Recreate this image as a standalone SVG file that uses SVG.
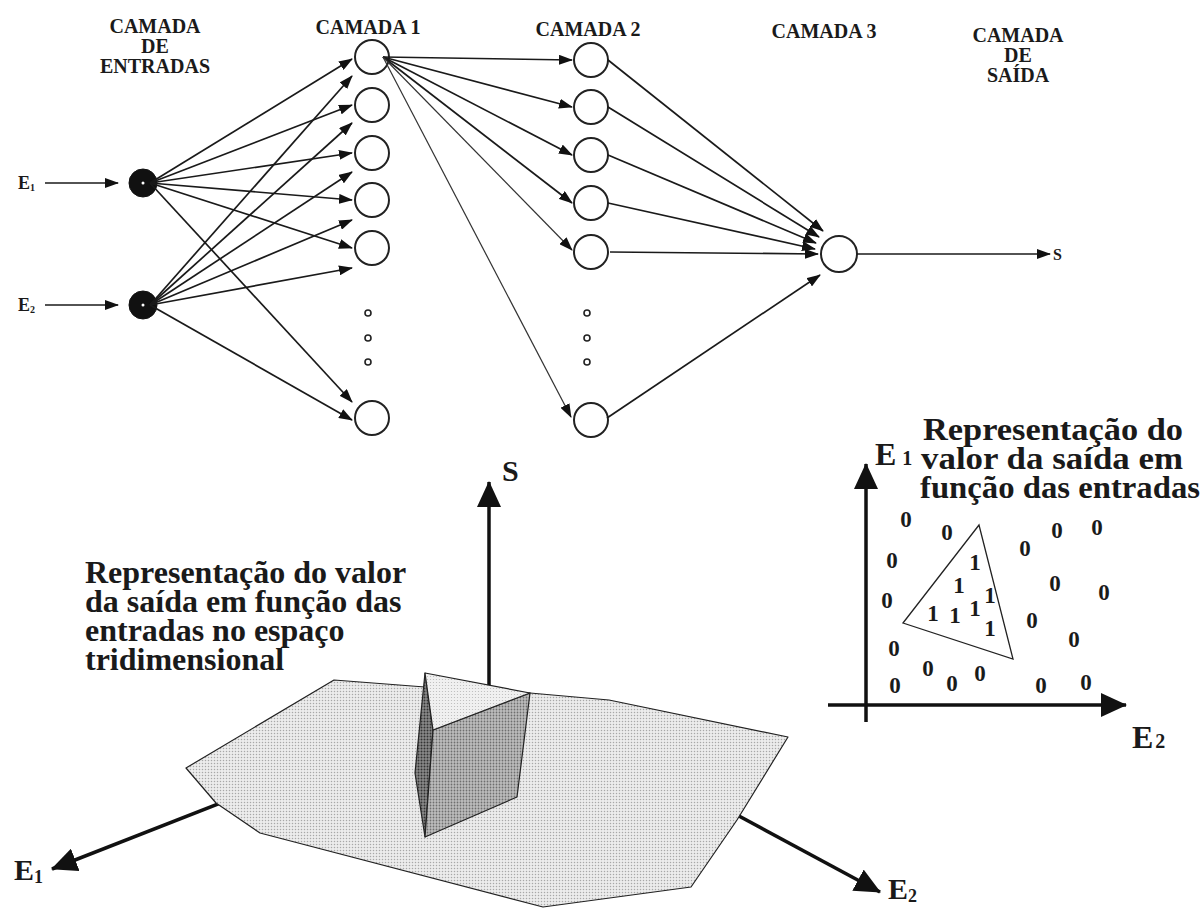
<svg xmlns="http://www.w3.org/2000/svg" width="1204" height="908" viewBox="0 0 1204 908">
  <style>
    .hdr { font-family: "Liberation Serif", "Times New Roman", serif; font-weight: bold; font-size: 20px; fill: #1a1a1a; text-anchor: middle; }
    .lbl { font-family: "Liberation Serif", "Times New Roman", serif; font-weight: bold; fill: #1a1a1a; }
    .title { font-family: "Liberation Serif", "Times New Roman", serif; font-weight: bold; font-size: 32px; fill: #1a1a1a; }
    .dig { font-family: "Liberation Serif", "Times New Roman", serif; font-weight: bold; font-size: 23px; fill: #1a1a1a; text-anchor: middle; }
    .neuron { fill: #fff; stroke: #222; stroke-width: 2; }
    .input { fill: #111; stroke: #111; stroke-width: 1; }
    .dot { fill: #fff; stroke: #222; stroke-width: 1.6; }
    .conn { stroke: #1a1a1a; stroke-width: 1.7; fill: none; marker-end: url(#ah); }
    .thin { stroke: #333; stroke-width: 1.2; fill: none; marker-end: url(#ah); }
    .axis { stroke: #111; stroke-width: 3.5; fill: none; }
    .face { stroke: #222; stroke-width: 1.2; stroke-linejoin: round; }
  </style>
  <defs>
    <marker id="ah" markerUnits="userSpaceOnUse" markerWidth="14" markerHeight="10" refX="13" refY="5" orient="auto">
      <path d="M0,0 L14,5 L0,10 z" fill="#111"/>
    </marker>
    <marker id="big" markerUnits="userSpaceOnUse" markerWidth="26" markerHeight="24" refX="25" refY="12" orient="auto">
      <path d="M0,0 L26,12 L0,24 z" fill="#111"/>
    </marker>
    <!-- halftone screens for the surface and the raised block -->
    <pattern id="screenLight" width="3" height="3" patternUnits="userSpaceOnUse">
      <rect width="3" height="3" fill="#ececec"/>
      <circle cx="1.5" cy="1.5" r="0.75" fill="#a8a8a8"/>
    </pattern>
    <pattern id="screenMid" width="3" height="3" patternUnits="userSpaceOnUse">
      <rect width="3" height="3" fill="#bdbdbd"/>
      <circle cx="1.5" cy="1.5" r="0.9" fill="#6e6e6e"/>
    </pattern>
    <pattern id="screenDark" width="3" height="3" patternUnits="userSpaceOnUse">
      <rect width="3" height="3" fill="#8a8a8a"/>
      <circle cx="1.5" cy="1.5" r="1" fill="#333"/>
    </pattern>
    <pattern id="screenTop" width="3" height="3" patternUnits="userSpaceOnUse">
      <rect width="3" height="3" fill="#f0f0f0"/>
      <circle cx="1.5" cy="1.5" r="0.6" fill="#b8b8b8"/>
    </pattern>
  </defs>

  <rect width="1204" height="908" fill="#fff"/>

  <!-- layer headings -->
  <g id="headings">
    <text class="hdr" x="155" y="33">CAMADA</text>
    <text class="hdr" x="155" y="53">DE</text>
    <text class="hdr" x="155" y="73">ENTRADAS</text>
    <text class="hdr" x="368" y="34">CAMADA 1</text>
    <text class="hdr" x="588" y="36">CAMADA 2</text>
    <text class="hdr" x="824" y="38">CAMADA 3</text>
    <text class="hdr" x="1018" y="42">CAMADA</text>
    <text class="hdr" x="1018" y="62">DE</text>
    <text class="hdr" x="1018" y="82">SAÍDA</text>
  </g>

  <!-- input signals -->
  <g id="in-E1">
    <text class="lbl" x="18" y="189" font-size="18">E<tspan font-size="10" dy="2">1</tspan></text>
    <line x1="45" y1="183" x2="118" y2="183" class="conn"/>
    <circle class="input" cx="143" cy="183" r="14"/>
    <circle cx="143" cy="183" r="1.5" fill="#fff"/>
  </g>
  <g id="in-E2">
    <text class="lbl" x="18" y="311" font-size="18">E<tspan font-size="10" dy="2">2</tspan></text>
    <line x1="45" y1="305" x2="118" y2="305" class="conn"/>
    <circle class="input" cx="143" cy="305" r="14"/>
    <circle cx="143" cy="305" r="1.5" fill="#fff"/>
  </g>

  <!-- layer 1 -->
  <g id="layer1">
    <circle class="neuron" cx="372" cy="57" r="17"/>
    <circle class="neuron" cx="372" cy="105" r="17"/>
    <circle class="neuron" cx="372" cy="153" r="17"/>
    <circle class="neuron" cx="372" cy="200" r="17"/>
    <circle class="neuron" cx="372" cy="248" r="17"/>
    <circle class="dot" cx="368" cy="313" r="3"/>
    <circle class="dot" cx="368" cy="338" r="3"/>
    <circle class="dot" cx="368" cy="362" r="3"/>
    <circle class="neuron" cx="372" cy="418" r="17"/>
  </g>

  <!-- layer 2 -->
  <g id="layer2">
    <circle class="neuron" cx="591" cy="60" r="17"/>
    <circle class="neuron" cx="591" cy="107" r="17"/>
    <circle class="neuron" cx="591" cy="155" r="17"/>
    <circle class="neuron" cx="591" cy="203" r="17"/>
    <circle class="neuron" cx="591" cy="252" r="17"/>
    <circle class="dot" cx="587" cy="313" r="3"/>
    <circle class="dot" cx="587" cy="338" r="3"/>
    <circle class="dot" cx="587" cy="362" r="3"/>
    <circle class="neuron" cx="591" cy="420" r="17"/>
  </g>

  <!-- output neuron -->
  <g id="output">
    <circle class="neuron" cx="839" cy="254" r="18"/>
    <text class="lbl" x="1053" y="260" font-size="16">S</text>
  </g>

  <!-- weighted links -->
  <g id="connectors">
    <!-- E1 to layer 1 -->
    <line x1="150" y1="183" x2="352" y2="59" class="conn"/>
    <line x1="150" y1="183" x2="352" y2="105" class="conn"/>
    <line x1="150" y1="183" x2="352" y2="153" class="conn"/>
    <line x1="150" y1="183" x2="352" y2="200" class="conn"/>
    <line x1="150" y1="183" x2="352" y2="248" class="conn"/>
    <line x1="150" y1="183" x2="352" y2="402" class="conn"/>
    <!-- E2 to layer 1 -->
    <line x1="150" y1="305" x2="352" y2="76" class="conn"/>
    <line x1="150" y1="305" x2="352" y2="123" class="conn"/>
    <line x1="150" y1="305" x2="352" y2="172" class="conn"/>
    <line x1="150" y1="305" x2="352" y2="220" class="conn"/>
    <line x1="150" y1="305" x2="352" y2="268" class="conn"/>
    <line x1="150" y1="305" x2="352" y2="420" class="conn"/>
    <!-- first unit of layer 1 to layer 2 -->
    <line x1="383" y1="57" x2="572" y2="60" class="conn"/>
    <line x1="383" y1="57" x2="572" y2="107" class="conn"/>
    <line x1="383" y1="57" x2="572" y2="155" class="conn"/>
    <line x1="383" y1="57" x2="572" y2="203" class="conn"/>
    <line x1="383" y1="57" x2="572" y2="250" class="thin"/>
    <line x1="383" y1="57" x2="571" y2="417" class="thin"/>
    <!-- layer 2 to output -->
    <line x1="608" y1="60" x2="823" y2="231" class="conn"/>
    <line x1="608" y1="107" x2="819" y2="237" class="conn"/>
    <line x1="608" y1="155" x2="816" y2="243" class="conn"/>
    <line x1="608" y1="203" x2="815" y2="249" class="conn"/>
    <line x1="610" y1="252" x2="818" y2="254" class="conn"/>
    <line x1="607" y1="418" x2="820" y2="275" class="conn"/>
    <!-- output signal -->
    <line x1="857" y1="254" x2="1050" y2="254" class="conn"/>
  </g>

  <!-- output surface over the input plane -->
  <g id="surface3d">
    <line x1="489" y1="690" x2="489" y2="482" class="axis" marker-end="url(#big)" stroke-width="4"/>
    <text class="lbl" x="502" y="481" font-size="30">S</text>
    <line x1="300" y1="772" x2="52" y2="869" class="axis" marker-end="url(#big)"/>
    <line x1="700" y1="795" x2="880" y2="892" class="axis" marker-end="url(#big)"/>
    <text class="lbl" x="14" y="880" font-size="30">E<tspan font-size="18" dy="3">1</tspan></text>
    <text class="lbl" x="888" y="899" font-size="30">E<tspan font-size="18" dy="3">2</tspan></text>
    <polygon class="face" fill="url(#screenLight)" stroke-width="1" points="186,768 334,680 425,687 530,693 609,700 788,737 737,820 691,887 543,907 260,833 216,803"/>
    <polygon class="face" fill="url(#screenDark)" points="425,673 433,730 425,837 415,773"/>
    <polygon class="face" fill="url(#screenMid)" points="433,730 530,693 517,797 425,837"/>
    <polygon class="face" fill="url(#screenTop)" points="425,673 530,693 433,730"/>
    <text class="title" x="85" y="583">Representação do valor</text>
    <text class="title" x="85" y="612">da saída em função das</text>
    <text class="title" x="85" y="641">entradas no espaço</text>
    <text class="title" x="85" y="670">tridimensional</text>
  </g>

  <!-- output value over the input plane -->
  <g id="plane2d">
    <text class="title" x="923" y="440" textLength="260" lengthAdjust="spacingAndGlyphs">Representação do</text>
    <text class="title" x="921" y="469" textLength="262" lengthAdjust="spacingAndGlyphs">valor da saída em</text>
    <text class="title" x="920" y="498" textLength="280" lengthAdjust="spacingAndGlyphs">função das entradas</text>
    <line x1="866" y1="722" x2="866" y2="464" class="axis" stroke-width="3" marker-end="url(#big)"/>
    <line x1="828" y1="705" x2="1126" y2="705" class="axis" stroke-width="3" marker-end="url(#big)"/>
    <text class="lbl" x="875" y="465" font-size="32">E<tspan font-size="20" dx="6">1</tspan></text>
    <text class="lbl" x="1132" y="748" font-size="32">E<tspan font-size="20" dx="2">2</tspan></text>
    <polygon points="979,525 903,623 1013,659" fill="none" stroke="#222" stroke-width="1.3"/>
    <g>
      <text class="dig" x="906" y="527">0</text>
      <text class="dig" x="947" y="540">0</text>
      <text class="dig" x="892" y="568">0</text>
      <text class="dig" x="1025" y="556">0</text>
      <text class="dig" x="1057" y="538">0</text>
      <text class="dig" x="1097" y="535">0</text>
      <text class="dig" x="887" y="608">0</text>
      <text class="dig" x="1055" y="591">0</text>
      <text class="dig" x="1104" y="600">0</text>
      <text class="dig" x="1032" y="628">0</text>
      <text class="dig" x="1074" y="647">0</text>
      <text class="dig" x="894" y="656">0</text>
      <text class="dig" x="928" y="676">0</text>
      <text class="dig" x="952" y="691">0</text>
      <text class="dig" x="980" y="681">0</text>
      <text class="dig" x="895" y="693">0</text>
      <text class="dig" x="1041" y="693">0</text>
      <text class="dig" x="1086" y="690">0</text>
    </g>
    <g>
      <text class="dig" x="975" y="570">1</text>
      <text class="dig" x="959" y="593">1</text>
      <text class="dig" x="990" y="603">1</text>
      <text class="dig" x="933" y="621">1</text>
      <text class="dig" x="955" y="623">1</text>
      <text class="dig" x="975" y="616">1</text>
      <text class="dig" x="990" y="636">1</text>
    </g>
  </g>
</svg>
